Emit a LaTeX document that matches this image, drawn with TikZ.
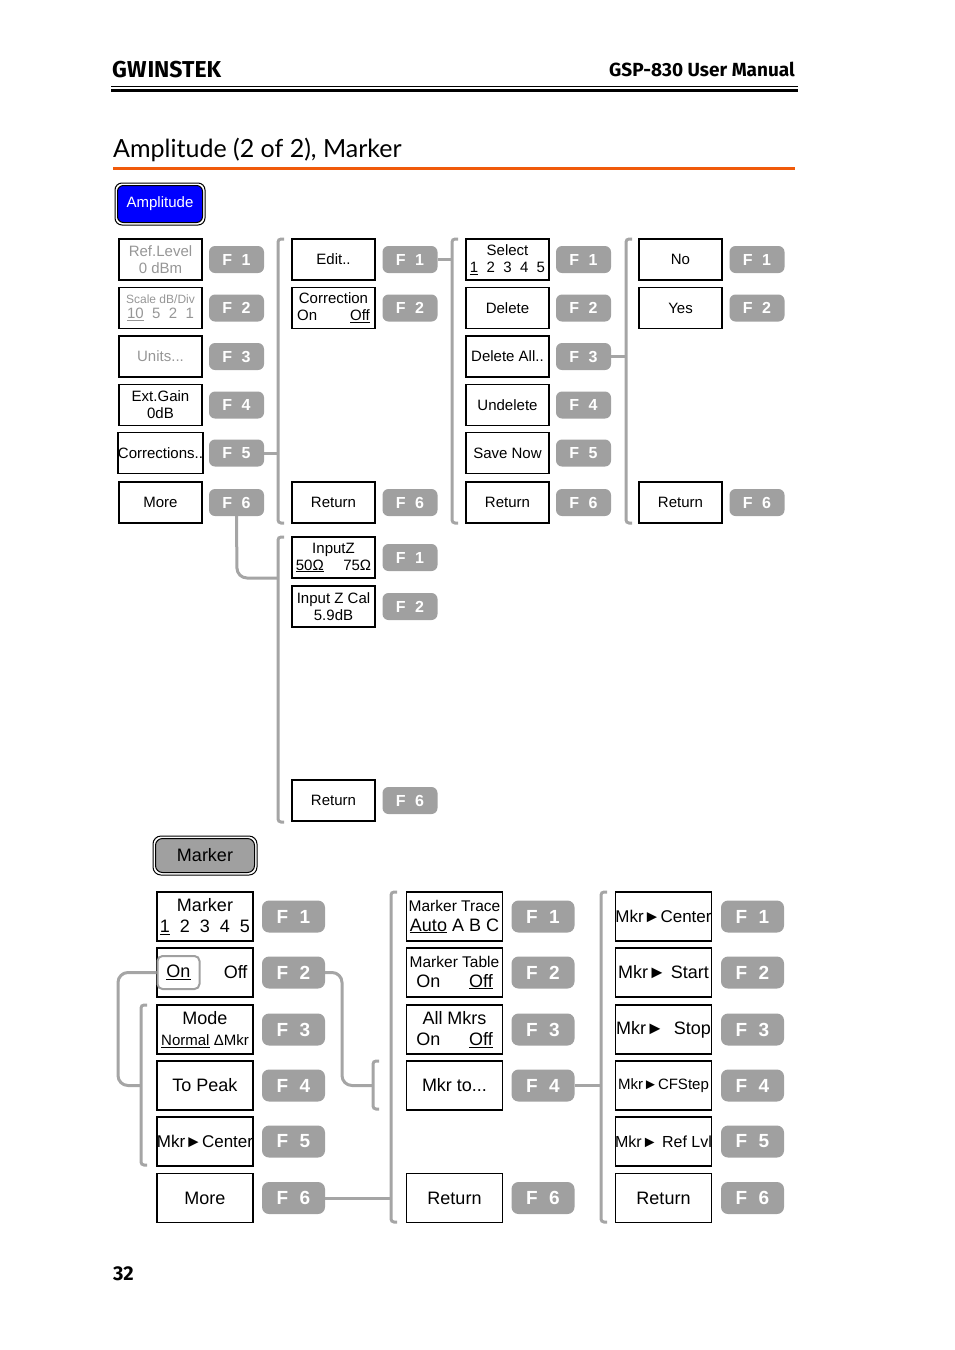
\documentclass[tikz,border=0pt]{standalone}
\usepackage{fontspec}
\setmainfont{Liberation Sans}
\newfontfamily\hdfont{Fira Sans}
\newfontfamily\ttlfont{Lato}
\definecolor{fgray}{RGB}{160,160,160}
\definecolor{bgray}{RGB}{165,165,165}
\definecolor{ttxt}{RGB}{150,150,150}
\definecolor{orng}{RGB}{240,90,10}
\tikzset{
 tb/.style={draw=black,line width=1.2pt,minimum width=83pt,minimum height=41pt,inner sep=0pt,align=center,font=\fontsize{15}{17}\selectfont},
 bb/.style={draw=black,line width=1.2pt,minimum width=96pt,minimum height=49pt,inner sep=0pt,align=center,font=\fontsize{18}{21}\selectfont},
 tf/.style={fill=fgray,rounded corners=6pt,minimum width=55pt,minimum height=27pt,inner sep=0pt,text=white,font=\bfseries\fontsize{16}{16}\selectfont},
 bf/.style={fill=fgray,rounded corners=7pt,minimum width=63pt,minimum height=32pt,inner sep=0pt,text=white,font=\bfseries\fontsize{19}{19}\selectfont},
 br/.style={draw=bgray,line width=3pt,rounded corners=3pt},
 cn/.style={draw=bgray,line width=3pt,rounded corners=10pt},
}
\newcommand\Fk[1]{F\hspace{0.6em}#1}
\begin{document}
\begin{tikzpicture}[x=1pt,y=-1pt]
\useasboundingbox (0,0) rectangle (954,1350);
% header
\node[anchor=base west,inner sep=0pt,font=\hdfont\bfseries\fontsize{23}{23}\selectfont] (logo) at (112,77) {GW\hspace{1pt}INSTEK};
\node[anchor=base east,inner sep=0pt,font=\hdfont\bfseries\fontsize{19}{19}\selectfont] (man) at (795,76) {GSP-830 User Manual};
\fill (111,85.5) rectangle (798,87);
\fill (111,88.5) rectangle (798,92);
\node[anchor=base west,inner sep=0pt,font=\ttlfont\fontsize{25}{25}\selectfont] (title) at (113,157) {Amplitude (2 of 2), Marker};
\fill[orng] (113,167) rectangle (795,170);
% amplitude button
\draw[line width=1pt,rounded corners=7pt] (115,183) rectangle (205,225);
\node[fill=blue,draw=black,line width=1pt,rounded corners=6pt,minimum width=85pt,minimum height=37pt,inner sep=0pt,text=white,font=\fontsize{15}{15}\selectfont] (amp) at (160,204) {Amplitude};
% col1 top
\node[tb,text=ttxt] (a1) at (160.5,259.5) {Ref.Level\\0 dBm};
\node[tb,text=ttxt,font=\fontsize{12}{15}\selectfont] (a2) at (160.5,308) {Scale dB/Div\\{\fontsize{15}{15}\selectfont\underline{10}\ \ 5\ \ 2\ \ 1}};
\node[tb,text=ttxt] (a3) at (160.5,356.5) {Units...};
\node[tb] (a4) at (160.5,405) {Ext.Gain\\0dB};
\node[tb] (a5) at (160.5,453) {Corrections..};
\node[tb] (a6) at (160.5,502.5) {More};
\foreach \i/\y in {1/259.5,2/308,3/356.5,4/405,5/453,6/502.5}{
 \node[tf] (fa\i) at (236.5,\y) {\Fk{\i}};
 \node[tf] (fc\i) at (583.5,\y) {\Fk{\i}};}
% col2 top
\node[tb] (b1) at (333.5,259.5) {Edit..};
\node[tb] (b2) at (333.5,308) {Correction\\On\hspace{2.2em}\underline{Off}};
\node[tb] (b6) at (333.5,502.5) {Return};
\node[tf] (fb1) at (410,259.5) {\Fk{1}};
\node[tf] (fb2) at (410,308) {\Fk{2}};
\node[tf] (fb6) at (410,502.5) {\Fk{6}};
% col3 top
\node[tb] (c1) at (507.5,259.5) {Select\\\underline{1}\ \ 2\ \ 3\ \ 4\ \ 5};
\node[tb] (c2) at (507.5,308) {Delete};
\node[tb] (c3) at (507.5,356.5) {Delete All..};
\node[tb] (c4) at (507.5,405) {Undelete};
\node[tb] (c5) at (507.5,453) {Save Now};
\node[tb] (c6) at (507.5,502.5) {Return};
% col4 top
\node[tb] (d1) at (680.5,259.5) {No};
\node[tb] (d2) at (680.5,308) {Yes};
\node[tb] (d6) at (680.5,502.5) {Return};
\node[tf] (fd1) at (757,259.5) {\Fk{1}};
\node[tf] (fd2) at (757,308) {\Fk{2}};
\node[tf] (fd6) at (757,502.5) {\Fk{6}};
% lower col2
\node[tb] (e1) at (333.5,557.5) {InputZ\\\underline{50Ω}\hspace{1.3em}75Ω};
\node[tb] (e2) at (333.5,606.5) {Input Z Cal\\5.9dB};
\node[tb] (e6) at (333.5,800.5) {Return};
\node[tf] (fe1) at (410,557.5) {\Fk{1}};
\node[tf] (fe2) at (410,606.5) {\Fk{2}};
\node[tf] (fe6) at (410,800.5) {\Fk{6}};
% top brackets
\draw[br] (284,239) -- (278,239) -- (278,523) -- (284,523);
\draw[br] (458,239) -- (452,239) -- (452,523) -- (458,523);
\draw[br] (632,239) -- (626,239) -- (626,523) -- (632,523);
\draw[br] (284,537) -- (278,537) -- (278,822) -- (284,822);
\coordinate (k1) at (278,453); \coordinate (k2) at (452,259.5); \coordinate (k3) at (626,356.5); \coordinate (k4) at (278,578);
\draw[br] (fa5.east) -- (k1);
\draw[br] (fb1.east) -- (k2);
\draw[br] (fc3.east) -- (k3);
\draw[cn] (fa6.south) -- (237,578) -- (k4);
% marker button
\draw[line width=1pt,rounded corners=8pt] (153,836) rectangle (257,875);
\node[fill=fgray,draw=black,line width=1pt,rounded corners=7pt,minimum width=99pt,minimum height=34pt,inner sep=0pt,font=\fontsize{18}{18}\selectfont] (mk) at (205,855.5) {Marker};
% bottom col1
\node[bb] (m1) at (205,916.5) {Marker\\\underline{1}\ \ 2\ \ 3\ \ 4\ \ 5};
\node[bb] (m2) at (205,972.5) {\hspace{3.4em}Off};
\node[draw=fgray,line width=2pt,rounded corners=5pt,minimum width=42pt,minimum height=33pt,inner sep=0pt,font=\fontsize{18}{18}\selectfont] (on) at (178.5,972.5) {\underline{On}};
\node[bb] (m3) at (205,1029.5) {Mode\\{\fontsize{15}{15}\selectfont\underline{Normal} ΔMkr}};
\node[bb] (m4) at (205,1085.5) {To Peak};
\node[bb,font=\fontsize{17}{17}\selectfont] (m5) at (205,1141.5) {Mkr►Center};
\node[bb] (m6) at (205,1198) {More};
% bottom col2
\node[bb,font=\fontsize{15.5}{20}\selectfont] (n1) at (454.5,916.5) {Marker Trace\\{\fontsize{18}{18}\selectfont\underline{Auto} A B C}};
\node[bb,font=\fontsize{15.5}{20}\selectfont] (n2) at (454.5,972.5) {Marker Table\\{\fontsize{18}{18}\selectfont On\hspace{1.6em}\underline{Off}}};
\node[bb] (n3) at (454.5,1029.5) {All Mkrs\\On\hspace{1.6em}\underline{Off}};
\node[bb] (n4) at (454.5,1085.5) {Mkr to...};
\node[bb] (n6) at (454.5,1198) {Return};
% bottom col3
\node[bb,font=\fontsize{17}{17}\selectfont] (p1) at (663.5,916.5) {Mkr►Center};
\node[bb] (p2) at (663.5,972.5) {Mkr► Start};
\node[bb] (p3) at (663.5,1029.5) {Mkr► \ Stop};
\node[bb,font=\fontsize{15}{15}\selectfont] (p4) at (663.5,1085.5) {Mkr►CFStep};
\node[bb,font=\fontsize{16}{16}\selectfont] (p5) at (663.5,1141.5) {Mkr► Ref Lvl};
\node[bb] (p6) at (663.5,1198) {Return};
\foreach \i/\y in {1/916.5,2/972.5,3/1029.5,4/1085.5,5/1141.5,6/1198}{
 \node[bf] (fm\i) at (293.5,\y) {\Fk{\i}};
 \node[bf] (fp\i) at (752.5,\y) {\Fk{\i}};}
\foreach \i/\y in {1/916.5,2/972.5,3/1029.5,4/1085.5,6/1198}{
 \node[bf] (fn\i) at (543,\y) {\Fk{\i}};}
% bottom brackets
\draw[br] (397,892) -- (391,892) -- (391,1222) -- (397,1222);
\draw[br] (607,892) -- (601,892) -- (601,1222) -- (607,1222);
\draw[br] (379,1061) -- (373,1061) -- (373,1109) -- (379,1109);
\draw[br] (147,1005) -- (141,1005) -- (141,1165) -- (147,1165);
\coordinate (q1) at (391,1198); \coordinate (q2) at (601,1085.5); \coordinate (q3) at (373,1085.5); \coordinate (q4) at (141,1085.5);
\draw[br] (fm6.east) -- (q1);
\draw[br] (fn4.east) -- (q2);
\draw[cn] (fm2.east) -- (342,972.5) -- (342,1085.5) -- (q3);
\draw[cn] (on.west) -- (118,972.5) -- (118,1085.5) -- (q4);
% page number
\node[anchor=base west,inner sep=0pt,font=\hdfont\bfseries\fontsize{20}{20}\selectfont] (pg) at (113,1280) {32};
\end{tikzpicture}
\end{document}
